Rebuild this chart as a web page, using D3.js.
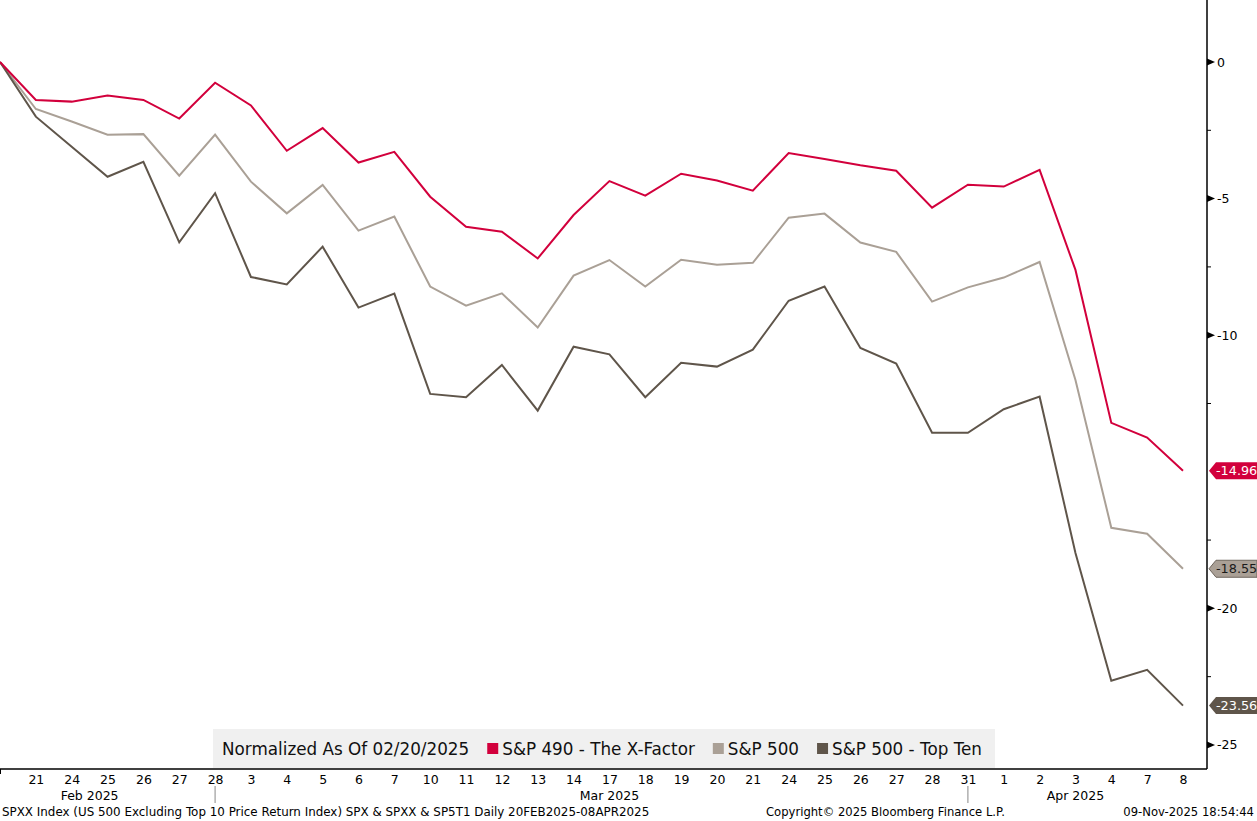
<!DOCTYPE html>
<html>
<head>
<meta charset="utf-8">
<script src="https://cdn.jsdelivr.net/npm/d3@7"></script>
<style>
  html, body { margin: 0; padding: 0; background: #fff; }
  svg { display: block; font-family: "DejaVu Sans", Verdana, sans-serif; }
</style>
</head>
<body>
<svg id="chart" width="1257" height="821"></svg>
<script>
// ---- Data ----
const dates = ["2025-02-20","2025-02-21","2025-02-24","2025-02-25","2025-02-26","2025-02-27","2025-02-28",
  "2025-03-03","2025-03-04","2025-03-05","2025-03-06","2025-03-07","2025-03-10","2025-03-11","2025-03-12",
  "2025-03-13","2025-03-14","2025-03-17","2025-03-18","2025-03-19","2025-03-20","2025-03-21","2025-03-24",
  "2025-03-25","2025-03-26","2025-03-27","2025-03-28","2025-03-31","2025-04-01","2025-04-02","2025-04-03",
  "2025-04-04","2025-04-07","2025-04-08"];

const sp490 = [0, -1.39, -1.45, -1.23, -1.39, -2.07, -0.76, -1.59, -3.25, -2.42, -3.68, -3.29, -4.93, -6.03,
  -6.21, -7.19, -5.60, -4.36, -4.89, -4.09, -4.34, -4.71, -3.33, -3.55, -3.78, -3.98, -5.33, -4.49, -4.56,
  -3.95, -7.61, -13.21, -13.75, -14.96];

const sp500 = [0, -1.72, -2.18, -2.66, -2.64, -4.16, -2.66, -4.38, -5.54, -4.50, -6.17, -5.66, -8.22, -8.92,
  -8.47, -9.72, -7.82, -7.25, -8.22, -7.24, -7.42, -7.35, -5.70, -5.55, -6.61, -6.95, -8.77, -8.25, -7.89,
  -7.32, -11.64, -17.05, -17.27, -18.55];

const spTop10 = [0, -2.00, -3.10, -4.20, -3.65, -6.60, -4.80, -7.87, -8.14, -6.76, -8.99, -8.48, -12.15,
  -12.27, -11.09, -12.76, -10.42, -10.70, -12.27, -11.01, -11.15, -10.53, -8.74, -8.22, -10.47, -11.04,
  -13.57, -13.57, -12.71, -12.25, -17.97, -22.65, -22.25, -23.56];

const seriesNames = ["S&P 490 - The X-Factor", "S&P 500", "S&P 500 - Top Ten"];
const seriesColors = ["#d2003c", "#aaa096", "#5f554a"];
const labelTextColors = ["#ffffff", "#1a1a1a", "#ffffff"];
const yMajorTicks = [0, -5, -10, -20, -25];
const yMinorTicks = [-2.5, -7.5, -12.5, -17.5, -22.5];
const monthLabels = [
  { text: "Feb 2025", from: "2025-02-21", to: "2025-02-26" },
  { text: "Mar 2025", from: "2025-03-13", to: "2025-03-19" },
  { text: "Apr 2025", from: "2025-04-02", to: "2025-04-04" }
];
const monthSeparators = ["2025-02-28", "2025-03-31"];
const legendTitle = "Normalized As Of 02/20/2025";
const footerLeft = "SPXX Index (US 500 Excluding Top 10 Price Return Index) SPX & SPXX & SP5T1 Daily 20FEB2025-08APR2025";
const footerMid = "Copyright\u00A9 2025 Bloomberg Finance L.P.";
const footerRight = "09-Nov-2025 18:54:44";

// ---- Layout ----
const W = 1257, H = 821;
const plotLeft = 0, plotRight = 1207, plotTop = 0, plotBottom = 769;
const svg = d3.select("#chart");

const x = d3.scalePoint().domain(dates).range([0, 1183]);
const y = d3.scaleLinear().domain([2.27, -25.88]).range([plotTop, plotBottom]);

const allSeries = [sp490, sp500, spTop10];

// lines
const line = d3.line().x((d, i) => x(dates[i])).y(d => y(d));
const lineOrder = [1, 2, 0];
lineOrder.forEach(k => {
  svg.append("path")
    .datum(allSeries[k])
    .attr("fill", "none")
    .attr("stroke", seriesColors[k])
    .attr("stroke-width", 2)
    .attr("stroke-linejoin", "miter")
    .attr("d", line);
});

// right axis
const yAxisG = svg.append("g").attr("transform", `translate(${plotRight},0)`);
yAxisG.append("line").attr("x1", 0).attr("x2", 0).attr("y1", plotTop).attr("y2", plotBottom)
  .attr("stroke", "#000").attr("stroke-width", 1.5);
yMinorTicks.forEach(v => {
  yAxisG.append("line").attr("x1", 0).attr("x2", 4).attr("y1", y(v)).attr("y2", y(v))
    .attr("stroke", "#000").attr("stroke-width", 1);
});
yMajorTicks.forEach(v => {
  const yy = y(v);
  yAxisG.append("path").attr("d", `M0,${yy - 3.5}L8,${yy}L0,${yy + 3.5}Z`).attr("fill", "#000");
  yAxisG.append("text").attr("x", 10).attr("y", yy).attr("dy", "0.36em")
    .attr("font-size", 12.5).attr("fill", "#000").text(v === 0 ? "0" : "-" + Math.abs(v));
});

// bottom axis
svg.append("line").attr("x1", plotLeft).attr("x2", plotRight).attr("y1", plotBottom).attr("y2", plotBottom)
  .attr("stroke", "#000").attr("stroke-width", 1.5);
svg.append("line").attr("x1", 0.5).attr("x2", 0.5).attr("y1", plotBottom).attr("y2", plotBottom + 5)
  .attr("stroke", "#000").attr("stroke-width", 1);
const xAxis = d3.axisBottom(x).tickSize(0).tickPadding(6)
  .tickValues(dates.slice(1))
  .tickFormat(d => String(+d.slice(8)));
const xAxisG = svg.append("g").attr("transform", `translate(0,${plotBottom})`).call(xAxis);
xAxisG.select(".domain").remove();
xAxisG.selectAll("text").attr("font-size", 12.5).attr("fill", "#000")
  .attr("font-family", "\"DejaVu Sans\", Verdana, sans-serif");

monthSeparators.forEach(d => {
  svg.append("line").attr("x1", x(d)).attr("x2", x(d)).attr("y1", 786).attr("y2", 803)
    .attr("stroke", "#888").attr("stroke-width", 1);
});
monthLabels.forEach(m => {
  svg.append("text").attr("x", (x(m.from) + x(m.to)) / 2).attr("y", 800)
    .attr("text-anchor", "middle").attr("font-size", 12.5).attr("fill", "#000").text(m.text);
});

// end labels
allSeries.forEach((s, k) => {
  const v = s[s.length - 1];
  const yy = y(v);
  const g = svg.append("g");
  g.append("path")
    .attr("d", `M1209,${yy}L1216,${yy - 8.5}L1257,${yy - 8.5}L1257,${yy + 8.5}L1216,${yy + 8.5}Z`)
    .attr("fill", seriesColors[k]).attr("stroke", k === 1 ? "#6e655c" : "none").attr("stroke-width", 1);
  g.append("text").attr("x", 1216).attr("y", yy).attr("dy", "0.36em")
    .attr("font-size", 12.8).attr("fill", labelTextColors[k]).text(v.toFixed(2));
});

// legend
const lg = svg.append("g");
lg.append("rect").attr("x", 213).attr("y", 729).attr("width", 782).attr("height", 39).attr("fill", "#f0f0f0");
let lx = 222;
const lt = lg.append("text").attr("x", lx).attr("y", 749).attr("dy", "0.36em")
  .attr("font-size", 16.8).attr("fill", "#111").text(legendTitle);
lx += lt.node().getComputedTextLength() + 18;
seriesNames.forEach((n, k) => {
  lg.append("rect").attr("x", lx).attr("y", 743).attr("width", 11).attr("height", 11).attr("fill", seriesColors[k]);
  const t = lg.append("text").attr("x", lx + 15).attr("y", 749).attr("dy", "0.36em")
    .attr("font-size", 16.8).attr("fill", "#111").text(n);
  lx += 15 + t.node().getComputedTextLength() + 18;
});

// footer
svg.append("text").attr("x", 2).attr("y", 816).attr("font-size", 11.9).attr("fill", "#000").text(footerLeft);
svg.append("text").attr("x", 766).attr("y", 816).attr("font-size", 11.6).attr("fill", "#000").text(footerMid);
svg.append("text").attr("x", 1254).attr("y", 816).attr("text-anchor", "end").attr("font-size", 11.6)
  .attr("fill", "#000").text(footerRight);
</script>
</body>
</html>
